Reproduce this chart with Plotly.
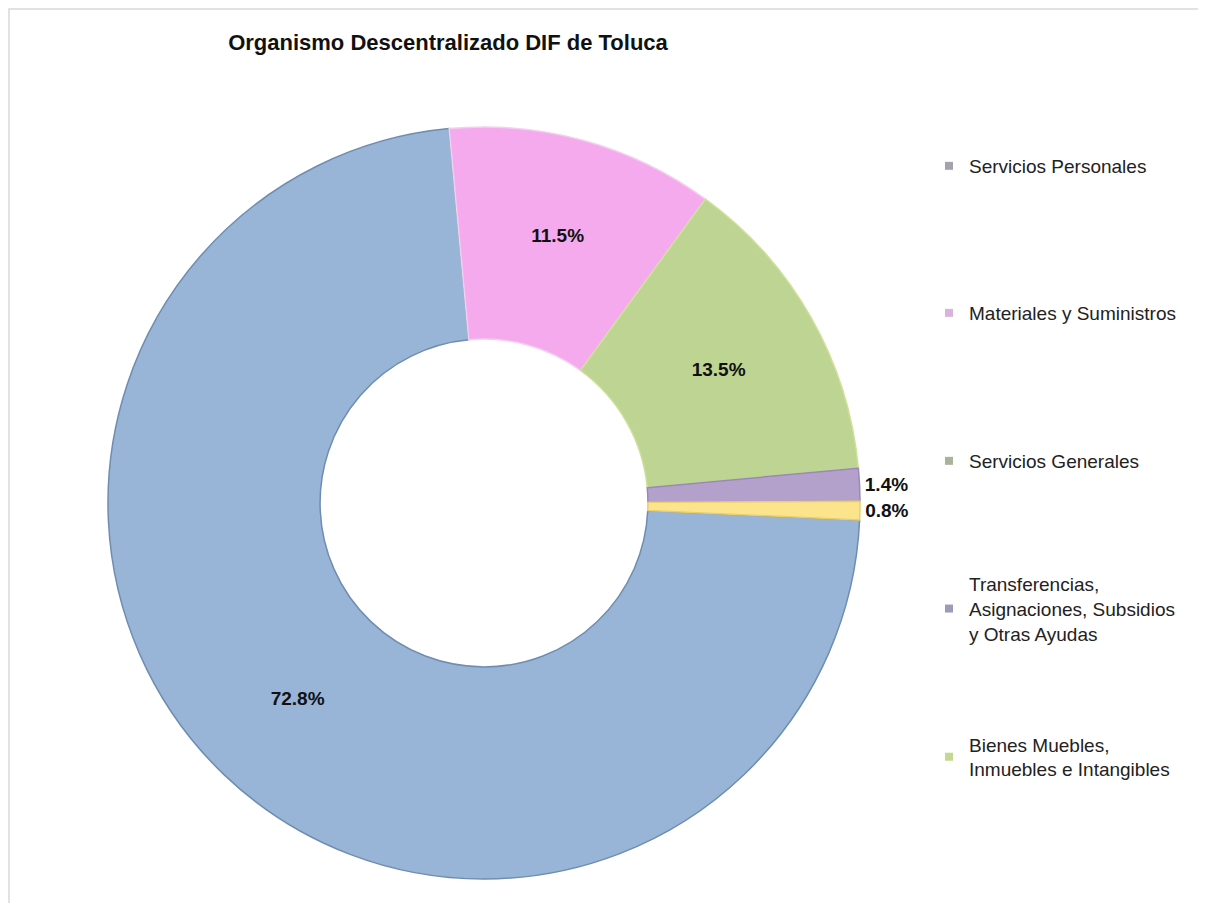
import plotly.graph_objects as go

categories = ["Servicios Personales", "Materiales y Suministros", "Servicios Generales",
              "Transferencias, Asignaciones, Subsidios y Otras Ayudas",
              "Bienes Muebles, Inmuebles e Intangibles"]
legend_labels = ["Servicios Personales", "Materiales y Suministros", "Servicios Generales",
                 "Transferencias,<br>Asignaciones, Subsidios<br>y Otras Ayudas",
                 "Bienes Muebles,<br>Inmuebles e Intangibles"]
values = [72.8, 11.5, 13.5, 1.4, 0.8]
slice_colors = ["#98b5d8", "#f5aaee", "#bed492", "#b3a1cc", "#fbe48c"]
edge_colors = ["#6f8db0", "#f0d0ec", "#cfe09a", "#9a88b8", "#e8cf6a"]
legend_marker_colors = ["#a3a3ad", "#d9b3dc", "#aab39a", "#9c9cba", "#c4d88e"]
text_pos = ["inside", "inside", "inside", "outside", "outside"]

W, H = 1206, 903
OFF = 8  # page body margin offset
cx, cy, R = 484 - OFF, 503 - OFF, 376

fig = go.Figure()
fig.add_trace(go.Pie(
    labels=categories, values=values, sort=False, direction="clockwise",
    rotation=92.6, hole=0.436,
    marker=dict(colors=slice_colors, line=dict(color=edge_colors, width=1.5)),
    texttemplate="%{value:.1f}%", textposition=text_pos,
    textfont=dict(family="Liberation Sans", size=19, color="#111111", weight="bold"),
    insidetextorientation="horizontal", showlegend=False,
    domain=dict(x=[(cx - R) / W, (cx + R) / W], y=[(H - cy - R) / H, (H - cy + R) / H]),
))

legend_y = [166, 313, 461, 609, 757]
layout_legends = {}
for i, (lab, col, ly) in enumerate(zip(legend_labels, legend_marker_colors, legend_y)):
    lname = "legend" if i == 0 else f"legend{i+1}"
    fig.add_trace(go.Scatter(
        x=[None], y=[None], mode="markers", name=lab,
        marker=dict(symbol="square", size=8, color=col),
        legend=lname, showlegend=True,
    ))
    layout_legends[lname] = dict(
        x=(969 - 40 - OFF) / W, xanchor="left", y=1 - (ly - OFF) / H, yanchor="middle",
        bgcolor="rgba(0,0,0,0)", borderwidth=0,
        font=dict(family="Liberation Sans", size=19, color="#222222"),
        itemclick=False, itemdoubleclick=False,
    )

fig.update_layout(
    width=W, height=H,
    margin=dict(l=0, r=0, t=0, b=0),
    paper_bgcolor="white", plot_bgcolor="white",
    title=dict(text="<b>Organismo Descentralizado DIF de Toluca</b>",
               x=(448 - OFF) / W, xanchor="center", y=1 - (42 - OFF) / H, yanchor="middle",
               font=dict(family="Liberation Sans", size=22, color="#111111")),
    xaxis=dict(visible=False), yaxis=dict(visible=False),
    shapes=[dict(type="rect", xref="paper", yref="paper",
                 x0=1 / W, x1=(1200 - OFF) / W, y0=-0.05, y1=1 - 1 / H,
                 line=dict(color="#d9d9d9", width=1.5), fillcolor="rgba(0,0,0,0)", layer="below")],
    **layout_legends,
)

fig.write_html("out.html")
